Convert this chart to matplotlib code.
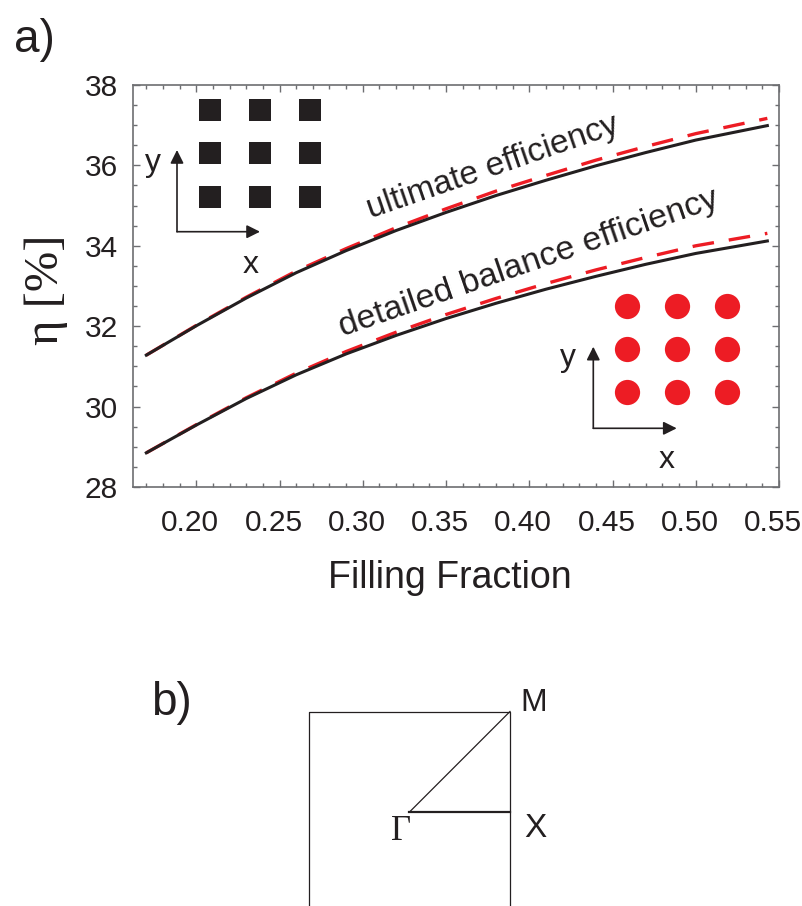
import matplotlib
matplotlib.use("Agg")
import matplotlib.pyplot as plt
import matplotlib.transforms as mtransforms
from matplotlib.ticker import MultipleLocator

# Filling fraction grid and efficiencies (percent)
fill_frac = [0.17, 0.20, 0.23, 0.26, 0.29, 0.32, 0.35, 0.38, 0.41, 0.44, 0.47, 0.50, 0.543]
ultimate_square = [31.28, 32.01, 32.70, 33.33, 33.88, 34.38, 34.83, 35.25, 35.63, 35.99, 36.32, 36.63, 36.99]
ultimate_circle = [31.28, 32.02, 32.72, 33.37, 33.93, 34.45, 34.92, 35.36, 35.75, 36.13, 36.47, 36.79, 37.17]
balance_square = [28.85, 29.54, 30.20, 30.79, 31.31, 31.77, 32.19, 32.57, 32.92, 33.24, 33.54, 33.81, 34.12]
balance_circle = [28.85, 29.55, 30.22, 30.83, 31.37, 31.85, 32.29, 32.69, 33.06, 33.40, 33.71, 34.00, 34.31]

x_ticks = [0.20, 0.25, 0.30, 0.35, 0.40, 0.45, 0.50, 0.55]
y_ticks = [28, 30, 32, 34, 36, 38]

# 3x3 lattice used in the two insets
lattice_i = [0, 1, 2, 0, 1, 2, 0, 1, 2]
lattice_j = [0, 0, 0, 1, 1, 1, 2, 2, 2]

# first Brillouin zone (part b) and the irreducible path
bz_x = [0, 1, 1, 0, 0]
bz_y = [0, 0, 1, 1, 0]
gm_x, gm_y = [0.5, 1.0], [0.5, 1.0]
gx_x, gx_y = [0.5, 1.0], [0.5, 0.5]

BLACK = "#231f20"
RED = "#ed1c24"
GRAY = "#6d6e71"

plt.rcParams["font.family"] = ["Liberation Sans", "DejaVu Sans"]

W, H = 803, 906
fig = plt.figure(figsize=(W / 100, H / 100), dpi=100)


def px_rect(x0, y0, x1, y1):
    return [x0 / W, 1 - y1 / H, (x1 - x0) / W, (y1 - y0) / H]


AX_L, AX_T, AX_R, AX_B = 133, 85, 779, 487
ax = fig.add_axes(px_rect(AX_L, AX_T, AX_R, AX_B))


def afrac(px, py):
    return ((px - AX_L) / (AX_R - AX_L), (AX_B - py) / (AX_B - AX_T))


# red dashed = circles, black = squares
ax.plot(fill_frac, ultimate_circle, color=RED, lw=2.4, dashes=(6.5, 4.5), zorder=2)
ax.plot(fill_frac, balance_circle, color=RED, lw=2.4, dashes=(6.5, 4.5), zorder=2)
ax.plot(fill_frac, ultimate_square, color=BLACK, lw=2.2, zorder=3)
ax.plot(fill_frac, balance_square, color=BLACK, lw=2.2, zorder=3)

ax.text(0.378, 35.95, "ultimate efficiency", rotation=19, ha="center", va="center",
        fontsize=24, color=BLACK)
ax.text(0.400, 33.57, "detailed balance efficiency", rotation=19, ha="center", va="center",
        fontsize=24.5, color=BLACK)

ax.set_xlim(0.162, 0.55)
ax.set_ylim(28, 38)
ax.set_xticks(x_ticks)
ax.set_xticklabels([f"{v:.2f}" for v in x_ticks])
ax.set_yticks(y_ticks)
ax.xaxis.set_minor_locator(MultipleLocator(0.01))
ax.yaxis.set_minor_locator(MultipleLocator(0.5))
ax.tick_params(which="both", direction="in", top=True, right=True, color=GRAY, width=1)
ax.tick_params(which="major", length=5, labelsize=21.5, labelcolor=BLACK)
ax.tick_params(which="minor", length=3)
ax.tick_params(axis="x", which="major", pad=16)
ax.tick_params(axis="y", which="major", pad=11)
for sp in ax.spines.values():
    sp.set_color(GRAY)
    sp.set_linewidth(1.2)

# x tick labels sit a few pixels left of their ticks in the original
shift = mtransforms.ScaledTranslation(-0.06, 0, fig.dpi_scale_trans)
for tick in ax.xaxis.get_major_ticks():
    tick.label1.set_transform(tick.label1.get_transform() + shift)

ax.set_xlabel("Filling Fraction", fontsize=27, color=BLACK)
ax.xaxis.set_label_coords(0.4907, -0.1816)
ax.set_ylabel("η [%]", fontsize=35, color=BLACK, family=["Liberation Serif", "DejaVu Serif"])
ax.yaxis.set_label_coords(-0.100, 0.49)

# inset: square lattice of squares
ins1 = fig.add_axes(px_rect(185.5, 87.75, 335.5, 218.25))
ins1.scatter(lattice_i, lattice_j, marker="s", s=251, color=BLACK, linewidths=0)
ins1.set_xlim(-0.5, 2.5)
ins1.set_ylim(-0.5, 2.5)
ins1.axis("off")

# inset: square lattice of circles
ins2 = fig.add_axes(px_rect(601.7, 284, 751.7, 414))
ins2.scatter(lattice_i, lattice_j, marker="o", s=330, color=RED, linewidths=0)
ins2.set_xlim(-0.5, 2.5)
ins2.set_ylim(-0.5, 2.5)
ins2.axis("off")

arrow_kw = dict(arrowstyle="-|>", color=BLACK, lw=1.2, mutation_scale=20, shrinkA=0, shrinkB=0)
for (ox, oy), top_y, right_x, ylab, xlab in [
    ((177, 231.7), 150, 260, (153, 163), (251, 265)),
    ((593.3, 428.3), 346.7, 676.7, (568, 358), (667, 460)),
]:
    ax.annotate("", xy=afrac(ox, top_y), xytext=afrac(ox, oy), xycoords="axes fraction",
                textcoords="axes fraction", arrowprops=arrow_kw)
    ax.annotate("", xy=afrac(right_x, oy), xytext=afrac(ox, oy), xycoords="axes fraction",
                textcoords="axes fraction", arrowprops=arrow_kw)
    ax.text(*afrac(*ylab), "y", transform=ax.transAxes, ha="center", va="center",
            fontsize=23, color=BLACK)
    ax.text(*afrac(*xlab), "x", transform=ax.transAxes, ha="center", va="center",
            fontsize=23, color=BLACK)

# part b: Brillouin zone
axb = fig.add_axes(px_rect(309, 711.5, 510, 912.5))
axb.plot(bz_x, bz_y, color=BLACK, lw=0.9, clip_on=False)
axb.plot(gm_x, gm_y, color=BLACK, lw=0.9, clip_on=False)
axb.plot(gx_x, gx_y, color=BLACK, lw=1.6, clip_on=False)
axb.set_xlim(0, 1)
axb.set_ylim(0, 1)
axb.axis("off")
axb.text(1.119, 1.042, "M", ha="center", va="center", fontsize=23, color=BLACK)
axb.text(1.127, 0.418, "X", ha="center", va="center", fontsize=24, color=BLACK)
axb.text(0.458, 0.403, "Γ", ha="center", va="center", fontsize=25, color=BLACK,
         family=["Liberation Serif", "DejaVu Serif"])

fig.text(34 / W, 1 - 40 / H, "a)", ha="center", va="center", fontsize=33, color=BLACK)
fig.text(171 / W, 1 - 703 / H, "b)", ha="center", va="center", fontsize=33, color=BLACK)

fig.savefig("out.png", dpi=100)
